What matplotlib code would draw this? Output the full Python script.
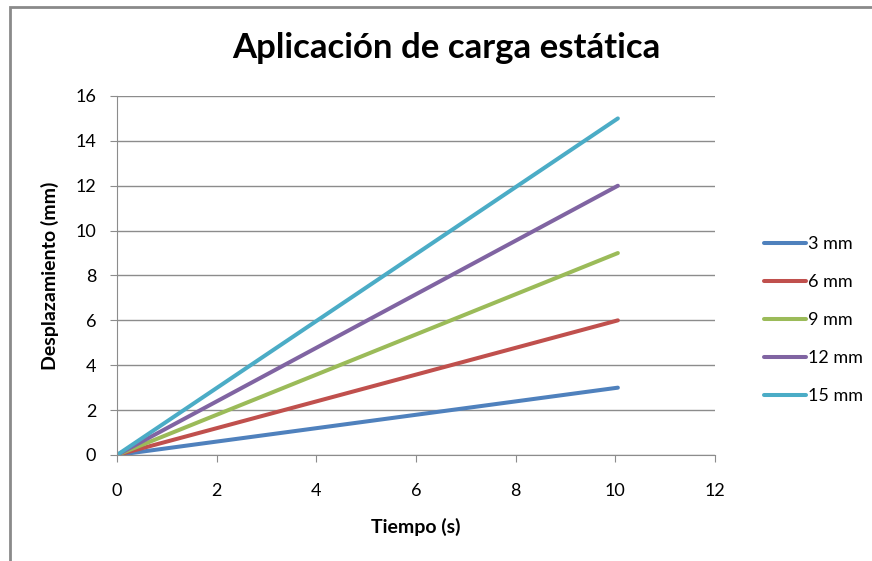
import numpy as np
import matplotlib.pyplot as plt
from matplotlib.patches import Rectangle

plt.rcParams['font.family'] = ['Lato', 'DejaVu Sans']

# Desplazamiento lineal frente al tiempo para cada carga
tiempo = [0.0, 10.05]
series = ["3 mm", "6 mm", "9 mm", "12 mm", "15 mm"]
desplazamientos = [
    [0, 3],
    [0, 6],
    [0, 9],
    [0, 12],
    [0, 15],
]
colores = ['#4F81BD', '#C0504D', '#9BBB59', '#8064A2', '#4BACC6']

fig = plt.figure(figsize=(8.72, 5.61), dpi=100)
ax = fig.add_axes([0.1342, 0.1890, 0.6858, 0.6399])

for nombre, d, c in zip(series, desplazamientos, colores):
    ax.plot(tiempo, d, color=c, lw=2.9, solid_capstyle='round', label=nombre)

ax.set_xlim(0, 12)
ax.set_ylim(0, 16)
ax.set_xticks(np.arange(0, 13, 2))
ax.set_yticks(np.arange(0, 17, 2))
ax.grid(axis='y', color='#8c8c8c', lw=1)
ax.set_axisbelow(True)
for s in ['top', 'right']:
    ax.spines[s].set_visible(False)
for s in ['left', 'bottom']:
    ax.spines[s].set_color('#8c8c8c')
ax.tick_params(axis='x', length=5, color='#8c8c8c', labelsize=13, pad=15)
ax.tick_params(axis='y', length=5, color='#8c8c8c', labelsize=13, pad=10)

fig.text(0.5115, 0.915, "Aplicación de carga estática", fontsize=25, fontweight='bold',
         ha='center', va='center')
ax.set_xlabel("Tiempo (s)", fontsize=14, fontweight='bold', labelpad=14)
ax.set_ylabel("Desplazamiento (mm)", fontsize=14, fontweight='bold', labelpad=12)

ax.legend(loc='center left', bbox_to_anchor=(1.055, 0.376), frameon=False,
          fontsize=13, handlelength=2.3, handletextpad=0.15, labelspacing=1.22)

# marco del gráfico
fig.patches.append(Rectangle((10 / 872, -0.1), 1.0, 0.9875 + 0.1, transform=fig.transFigure,
                             fill=False, edgecolor='#8a8a8a', lw=2))

fig.savefig("out.png", dpi=100)
